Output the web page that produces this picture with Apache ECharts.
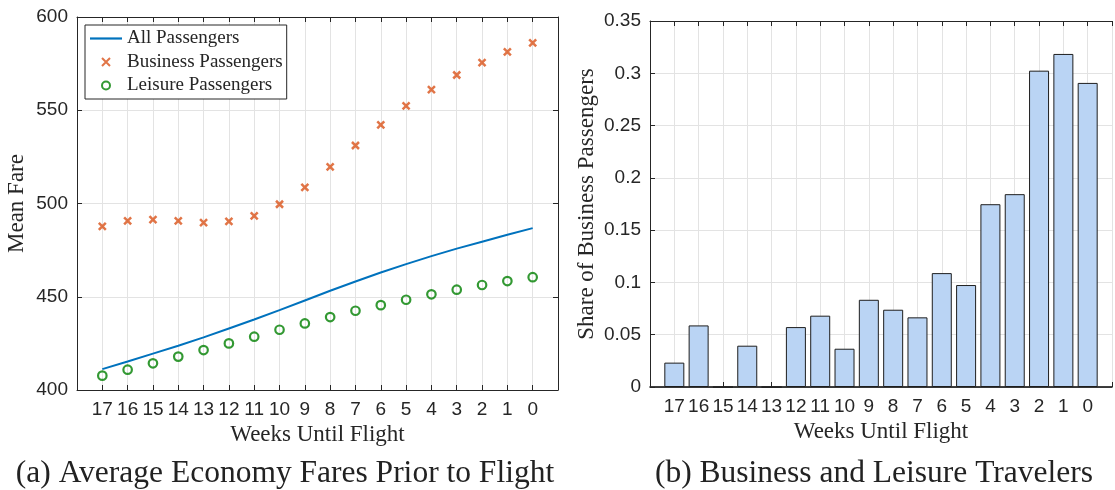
<!DOCTYPE html>
<html><head><meta charset="utf-8">
<script src="https://cdn.jsdelivr.net/npm/echarts@6/dist/echarts.min.js"></script>
<style>html,body{margin:0;padding:0;background:#fff;overflow:hidden}#c{width:1115px;height:490px}</style>
</head><body><div id="c"></div>
<script>
// ---- data ----
const weeks = [17,16,15,14,13,12,11,10,9,8,7,6,5,4,3,2,1,0];
const allPassengersFare = [411.2,415.3,419.5,423.7,428.2,433.0,437.8,442.8,448.0,453.2,458.2,463.0,467.5,471.8,475.8,479.5,483.2,486.8];
const businessFare = [487.7,490.7,491.4,490.7,489.8,490.4,493.4,499.6,508.6,519.6,531.1,542.1,552.3,561.1,568.9,575.5,581.3,586.1];
const leisureFare = [407.7,410.9,414.3,417.9,421.4,425.0,428.6,432.3,435.7,439.1,442.5,445.5,448.4,451.3,453.8,456.3,458.4,460.5];
const businessShare = [0.0233,0.0589,0,0.0395,0,0.0573,0.0682,0.0366,0.0834,0.0739,0.0666,0.1089,0.0975,0.1748,0.1844,0.3025,0.3185,0.2908];
const fareTicks = [400,450,500,550,600];
const shareTicks = [0,0.05,0.1,0.15,0.2,0.25,0.3,0.35];
const captionA = '(a) Average Economy Fares Prior to Flight';
const captionB = '(b) Business and Leisure Travelers';
const xTitle = 'Weeks Until Flight';

const pair = (xs, ys) => xs.map((x, i) => [x, ys[i]]);

const SANS = 'Liberation Sans, Arial, sans-serif';
const SERIF = 'Liberation Serif, Times New Roman, serif';
const AX = '#262626';
const GRIDC = '#e3e3e3';

function xAx(gridIndex, pos, opts) {
  return Object.assign({
    type: 'value', gridIndex, position: pos, inverse: true,
    min: -1, max: 18, interval: 1,
    axisLine: { show: true, onZero: false, lineStyle: { color: AX, width: 1 } },
    axisTick: { show: true, inside: true, length: 5, lineStyle: { color: AX } },
    axisLabel: pos === 'bottom' ? {
      show: true, margin: 10, fontFamily: SANS, fontSize: 19, color: AX,
      formatter: v => weeks.includes(v) ? String(v) : ''
    } : { show: false },
    splitLine: { show: pos === 'bottom', lineStyle: { color: GRIDC, width: 1 } }
  }, opts || {});
}
function yAx(gridIndex, pos, min, max, interval, ticks, opts) {
  return Object.assign({
    type: 'value', gridIndex, position: pos, min, max, interval,
    axisLine: { show: true, onZero: false, lineStyle: { color: AX, width: 1 } },
    axisTick: { show: true, inside: true, length: 5, lineStyle: { color: AX } },
    axisLabel: pos === 'left' ? {
      show: true, margin: 9, fontFamily: SANS, fontSize: 19, color: AX,
      formatter: v => { const t = ticks.find(t => Math.abs(t - v) < 1e-9); return t === undefined ? '' : String(t); }
    } : { show: false },
    splitLine: { show: pos === 'left', lineStyle: { color: GRIDC, width: 1 } }
  }, opts || {});
}

const nameStyle = { fontFamily: SERIF, fontSize: 23, color: AX };

const chart = echarts.init(document.getElementById('c'), null, { renderer: 'canvas' });
chart.setOption({
  animation: false,
  backgroundColor: '#fff',
  grid: [
    { left: 77, top: 17, width: 481, height: 373 },
    { left: 650, top: 21, width: 474, height: 366 }
  ],
  xAxis: [
    xAx(0, 'bottom', { name: xTitle, nameLocation: 'middle', nameGap: 29, nameTextStyle: nameStyle }),
    xAx(0, 'top'),
    xAx(1, 'bottom', { name: xTitle, nameLocation: 'middle', nameGap: 30, nameTextStyle: nameStyle,
      axisLine: { show: true, onZero: false, lineStyle: { color: '#000', width: 1.5 } } }),
    xAx(1, 'top')
  ],
  yAxis: [
    yAx(0, 'left', 400, 600, 50, fareTicks, { name: 'Mean Fare', nameLocation: 'middle', nameGap: 49, nameRotate: 90, nameTextStyle: nameStyle }),
    yAx(0, 'right', 400, 600, 50, fareTicks),
    yAx(1, 'left', 0, 0.35, 0.05, shareTicks, { name: 'Share of Business Passengers', nameLocation: 'middle', nameGap: 52, nameRotate: 90, nameTextStyle: nameStyle })
  ],
  legend: {
    orient: 'vertical', left: 85, top: 25,
    padding: [4, 4, 4, 5], itemGap: 4.5, itemWidth: 32, itemHeight: 8,
    backgroundColor: '#fff', borderColor: AX, borderWidth: 1, borderRadius: 0,
    textStyle: { fontFamily: SERIF, fontSize: 19, lineHeight: 18, color: AX },
    data: [
      { name: 'All Passengers', icon: 'path://M0,0H32V2.2H0Z' },
      { name: 'Business Passengers' },
      { name: 'Leisure Passengers' }
    ]
  },
  series: [
    { name: 'All Passengers', type: 'line', xAxisIndex: 0, yAxisIndex: 0,
      data: pair(weeks, allPassengersFare), showSymbol: false, symbol: 'none',
      lineStyle: { color: '#0072BD', width: 2 }, itemStyle: { color: '#0072BD' }, z: 3 },
    { name: 'Business Passengers', type: 'scatter', xAxisIndex: 0, yAxisIndex: 0,
      data: pair(weeks, businessFare),
      symbol: 'path://M0,0L10,10M10,0L0,10', symbolSize: 7,
      itemStyle: { color: 'rgba(0,0,0,0)', borderColor: '#D95319', borderWidth: 2.5 }, z: 4 },
    { name: 'Leisure Passengers', type: 'scatter', xAxisIndex: 0, yAxisIndex: 0,
      data: pair(weeks, leisureFare),
      symbol: 'circle', symbolSize: 8.5,
      itemStyle: { color: 'rgba(255,255,255,0)', borderColor: '#008000', borderWidth: 2.2 }, z: 4 },
    { name: 'Share', type: 'bar', xAxisIndex: 2, yAxisIndex: 2,
      data: pair(weeks, businessShare), barWidth: 20,
      itemStyle: { color: '#BAD4F4', borderColor: '#1e1e1e', borderWidth: 1 }, z: 2 }
  ],
  graphic: [
    { type: 'text', x: 285, y: 474, style: { text: captionA, fontFamily: SERIF, fontSize: 31.5, fill: '#222', align: 'center', verticalAlign: 'middle' } },
    { type: 'text', x: 874, y: 474, style: { text: captionB, fontFamily: SERIF, fontSize: 31.5, fill: '#222', align: 'center', verticalAlign: 'middle' } }
  ]
});
</script>
</body></html>
